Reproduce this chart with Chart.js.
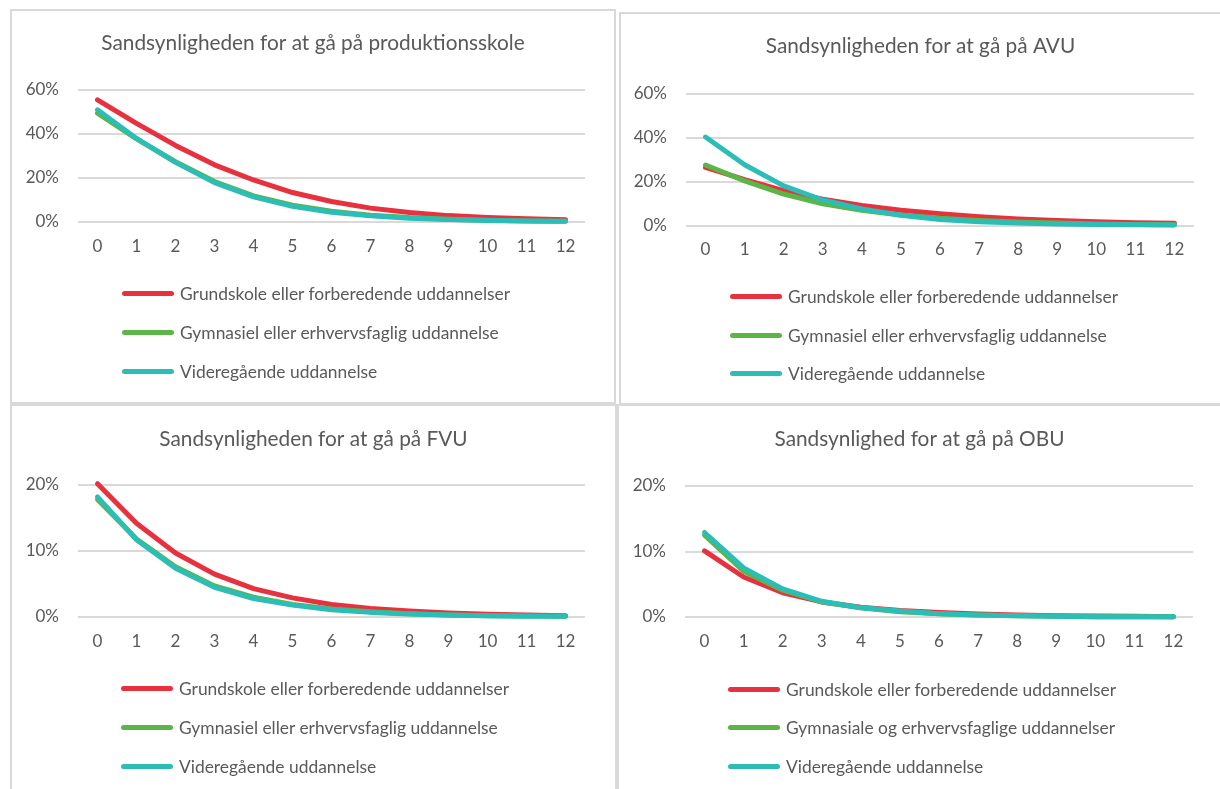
<!DOCTYPE html>
<html>
<head>
<meta charset="utf-8">
<script src="https://cdn.jsdelivr.net/npm/chart.js@4.4.1/dist/chart.umd.min.js"></script>
<style>
body{margin:0;background:#fff;width:1220px;height:789px;overflow:hidden;position:relative;font-family:Lato,sans-serif}
.panel{position:absolute;border:2px solid #d9d9d9;box-sizing:border-box}
canvas{position:absolute}
.leg{position:absolute;height:20px;display:flex;align-items:center;color:#595959;font-size:17.4px;white-space:nowrap}
.leg i{display:block;width:52px;height:5px;border-radius:3px;margin-right:6px}
</style>
</head>
<body>
<script>
// x-axis: years
var years = ['0', '1', '2', '3', '4', '5', '6', '7', '8', '9', '10', '11', '12'];

var seriesNames = ['Grundskole eller forberedende uddannelser', 'Gymnasiel eller erhvervsfaglig uddannelse', 'Videregående uddannelse'];
var seriesNamesObu = ['Grundskole eller forberedende uddannelser', 'Gymnasiale og erhvervsfaglige uddannelser', 'Videregående uddannelse'];

// values in percent
var prodGrund = [55.5, 44.8, 34.8, 26.0, 19.1, 13.4, 9.3, 6.3, 4.3, 2.9, 2.1, 1.5, 1.0];
var prodGym   = [49.5, 37.8, 27.4, 18.4, 11.9, 7.6, 4.9, 3.1, 2.0, 1.3, 0.8, 0.5, 0.3];
var prodVid   = [51.0, 38.0, 27.1, 17.9, 11.4, 7.1, 4.4, 2.8, 1.7, 1.1, 0.7, 0.4, 0.3];

var avuGrund = [26.4, 20.8, 15.8, 12.0, 9.1, 6.9, 5.3, 4.0, 3.0, 2.3, 1.7, 1.3, 1.0];
var avuGym   = [27.5, 20.3, 14.3, 9.9, 6.9, 4.8, 3.3, 2.3, 1.6, 1.1, 0.7, 0.5, 0.3];
var avuVid   = [40.2, 27.6, 18.0, 11.6, 7.5, 4.7, 2.7, 1.7, 1.1, 0.7, 0.4, 0.3, 0.2];

var fvuGrund = [20.2, 14.2, 9.7, 6.5, 4.3, 2.9, 1.9, 1.3, 0.9, 0.6, 0.4, 0.3, 0.2];
var fvuGym   = [17.8, 11.8, 7.6, 4.7, 3.0, 1.9, 1.2, 0.8, 0.5, 0.3, 0.2, 0.15, 0.1];
var fvuVid   = [18.2, 11.7, 7.4, 4.5, 2.8, 1.8, 1.1, 0.7, 0.45, 0.3, 0.2, 0.1, 0.1];

var obuGrund = [10.1, 6.1, 3.7, 2.3, 1.5, 1.0, 0.7, 0.45, 0.3, 0.2, 0.15, 0.1, 0.05];
var obuGym   = [12.5, 7.0, 4.1, 2.3, 1.4, 0.8, 0.5, 0.3, 0.2, 0.1, 0.05, 0.05, 0.03];
var obuVid   = [12.9, 7.5, 4.3, 2.4, 1.4, 0.9, 0.5, 0.3, 0.2, 0.1, 0.05, 0.05, 0.03];

var colors = ['#e8313f', '#5bb547', '#2cbdb7'];

/*
 * panel layout: box = border of the panel, area = wanted plot area,
 * titleY = centre of title, leg = legend start x and row centres
 */
var panels = [
    {title: 'Sandsynligheden for at gå på produktionsskole', names: seriesNames, values: [prodGrund, prodGym, prodVid], max: 60, step: 20,
     box: [10, 9, 606, 395], area: [78, 90, 585, 222], titleY: 43, leg: [122, [293, 332, 371]]},
    {title: 'Sandsynligheden for at gå på AVU', names: seriesNames, values: [avuGrund, avuGym, avuVid], max: 60, step: 20,
     box: [619, 12, 610, 393], area: [686, 93.5, 1194, 225.5], titleY: 46.5, leg: [730, [296, 335, 373]]},
    {title: 'Sandsynligheden for at gå på FVU', names: seriesNames, values: [fvuGrund, fvuGym, fvuVid], max: 20, step: 10,
     box: [10, 404, 607, 400], area: [78, 485, 585, 617], titleY: 439, leg: [121, [688, 727, 766]]},
    {title: 'Sandsynlighed for at gå på OBU', names: seriesNamesObu, values: [obuGrund, obuGym, obuVid], max: 20, step: 10,
     box: [617, 404, 610, 400], area: [685, 486, 1193, 617], titleY: 439, leg: [728, [689, 727, 766]]}
];

function createPanel(p){
    var div = document.createElement('div');
    div.className = 'panel';
    div.style.left = p.box[0] + 'px';
    div.style.top = p.box[1] + 'px';
    div.style.width = p.box[2] + 'px';
    div.style.height = p.box[3] + 'px';
    document.body.appendChild(div);

    var cx = p.box[0] + 2, cy = p.box[1] + 2;
    var cw = Math.min(p.box[0] + p.box[2] - 2, 1220) - cx;
    var ch = Math.min(p.box[1] + p.box[3] - 2, 789) - cy;
    var canvas = document.createElement('canvas');
    canvas.width = cw; canvas.height = ch;
    canvas.style.left = cx + 'px'; canvas.style.top = cy + 'px';
    document.body.appendChild(canvas);

    var side = cx + cw - p.area[2];
    var yWidth = p.area[0] - cx;
    var titleSize = 20.8, titleLine = titleSize * 1.2;
    var titleTop = p.titleY - cy - titleLine / 2;
    var titleBottom = p.area[1] - cy - titleTop - titleLine;
    var xHeight = 40;
    var bottomPad = cy + ch - p.area[3] - xHeight;

    var datasets = [];
    for(var i = 0; i < 3; i++){
        datasets.push({
            label: p.names[i],
            data: p.values[i],
            borderColor: colors[i],
            backgroundColor: colors[i],
            borderWidth: 5,
            borderCapStyle: 'round',
            borderJoinStyle: 'round',
            pointRadius: 0,
            tension: 0,
            order: 3 - i,
            clip: false
        });
    }

    var chart = new Chart(canvas, {
        type: 'line',
        data: {labels: years, datasets: datasets},
        options: {
            responsive: false,
            animation: false,
            devicePixelRatio: 1,
            layout: {padding: {left: 0, right: 0, top: 0, bottom: bottomPad}},
            scales: {
                x: {
                    offset: true,
                    grid: {display: false},
                    border: {display: false},
                    ticks: {color: '#595959', font: {family: 'Lato', size: 17}, padding: 6, maxRotation: 0},
                    afterFit: function(s){ s.height = xHeight; }
                },
                y: {
                    min: 0,
                    max: p.max,
                    border: {display: false},
                    grid: {color: '#d9d9d9', lineWidth: 2, drawTicks: false},
                    ticks: {stepSize: p.step, color: '#595959', font: {family: 'Lato', size: 17}, padding: 19,
                        callback: function(v){ return v + '%'; }},
                    afterFit: function(s){ s.width = yWidth; }
                },
                // empty right axis only keeps the margin on the right side
                yRight: {
                    position: 'right',
                    display: true,
                    grid: {display: false},
                    border: {display: false},
                    ticks: {display: false},
                    afterFit: function(s){ s.width = side; }
                }
            },
            plugins: {
                legend: {display: false},
                tooltip: {enabled: false},
                title: {
                    display: true,
                    text: p.title,
                    color: '#595959',
                    font: {family: 'Lato', size: titleSize, weight: 'normal', lineHeight: 1.2},
                    padding: {top: titleTop, bottom: titleBottom}
                }
            }
        }
    });

    // html legend, one row per dataset
    chart.data.datasets.forEach(function(ds, i){
        var row = document.createElement('div');
        row.className = 'leg';
        row.style.left = p.leg[0] + 'px';
        row.style.top = (p.leg[1][i] - 10) + 'px';
        row.innerHTML = '<i style="background:' + ds.borderColor + '"></i><span>' + ds.label + '</span>';
        document.body.appendChild(row);
    });
}

panels.forEach(createPanel);
</script>
</body>
</html>
